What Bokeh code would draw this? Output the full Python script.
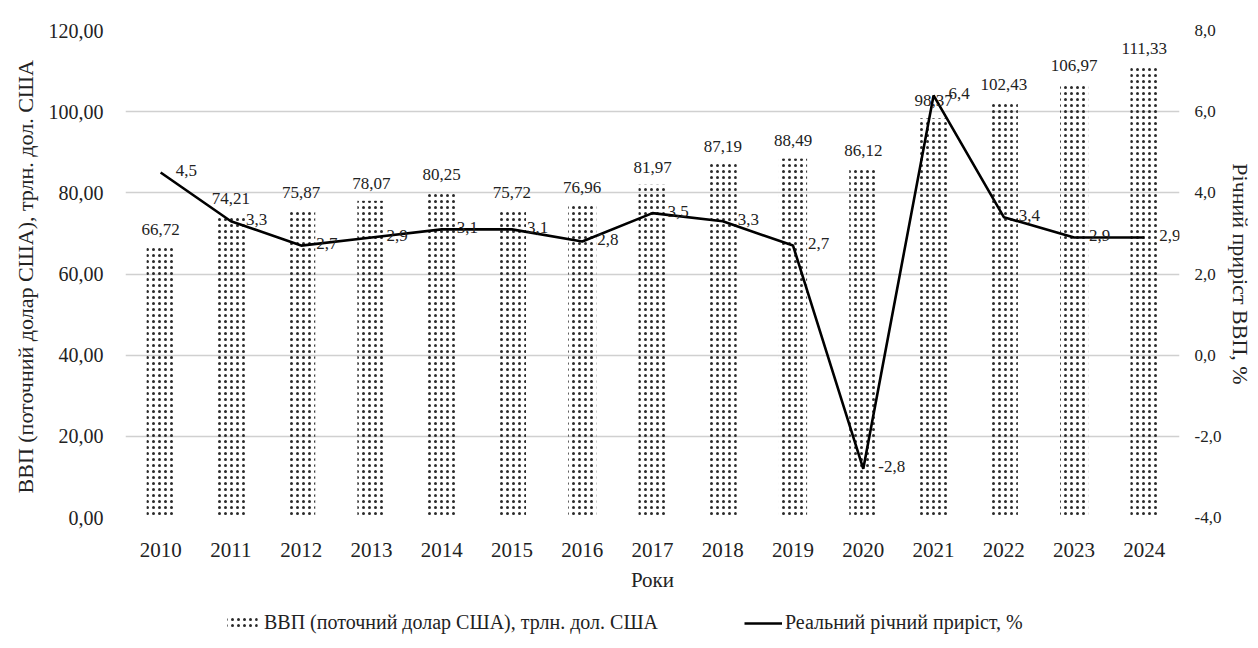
from bokeh.plotting import figure
from bokeh.layouts import column
from bokeh.models import (ColumnDataSource, Range1d, LinearAxis, LabelSet, Legend, LegendItem,
                          CustomJSTickFormatter, FixedTicker)
from bokeh.embed import file_html
from bokeh.resources import INLINE

years = ["2010", "2011", "2012", "2013", "2014", "2015", "2016", "2017",
         "2018", "2019", "2020", "2021", "2022", "2023", "2024"]
gdp = [66.72, 74.21, 75.87, 78.07, 80.25, 75.72, 76.96, 81.97,
       87.19, 88.49, 86.12, 98.37, 102.43, 106.97, 111.33]
growth = [4.5, 3.3, 2.7, 2.9, 3.1, 3.1, 2.8, 3.5, 3.3, 2.7, -2.8, 6.4, 3.4, 2.9, 2.9]
left_ticks = [0, 20, 40, 60, 80, 100, 120]
right_ticks = [-4, -2, 0, 2, 4, 6, 8]
legend_labels = ["ВВП (поточний долар США), трлн. дол. США", "Реальний річний приріст, %"]

FONT = "Liberation Serif"
TXT = "#222222"
BAR_STYLE = dict(fill_color=None, line_color=None, hatch_pattern="dot", hatch_color="#2a2a2a",
                 hatch_scale=6, hatch_weight=2.0)
LINE_STYLE = dict(line_color="black", line_width=2.6)

src = ColumnDataSource(dict(
    year=years, gdp=gdp, growth=growth,
    gdp_lbl=[f"{v:.2f}".replace(".", ",") for v in gdp],
    gr_lbl=[f"{v:.1f}".replace(".", ",") for v in growth],
))

W = 1256
p = figure(width=W, height=600, x_range=years, y_range=Range1d(0, 120),
           output_backend="svg", toolbar_location=None,
           min_border_left=125, min_border_right=64, min_border_top=30, min_border_bottom=83)
p.extra_y_ranges = {"right": Range1d(-4, 8)}
p.outline_line_color = None
p.background_fill_color = "white"
p.border_fill_color = "white"

bars = p.vbar(x="year", top="gdp", width=0.4, source=src, **BAR_STYLE)
line = p.line(x="year", y="growth", source=src, y_range_name="right", **LINE_STYLE)

# axes
p.yaxis.ticker = FixedTicker(ticks=left_ticks)
p.yaxis.formatter = CustomJSTickFormatter(code="return tick.toFixed(2).replace('.', ',');")
p.yaxis.axis_line_color = None
p.yaxis.major_tick_line_color = None
p.yaxis.minor_tick_line_color = None
p.yaxis.major_label_text_font = FONT
p.yaxis.major_label_text_font_size = "20px"
p.yaxis.major_label_text_color = TXT
p.yaxis.major_label_standoff = 16
p.yaxis.axis_label = "ВВП (поточний долар США),  трлн. дол. США"
p.yaxis.axis_label_text_font = FONT
p.yaxis.axis_label_text_font_size = "22px"
p.yaxis.axis_label_text_font_style = "normal"
p.yaxis.axis_label_text_color = TXT
p.yaxis.axis_label_standoff = 8

ry = LinearAxis(y_range_name="right",
                ticker=FixedTicker(ticks=right_ticks),
                formatter=CustomJSTickFormatter(code="return tick.toFixed(1).replace('.', ',');"))
ry.axis_line_color = None
ry.major_tick_line_color = None
ry.minor_tick_line_color = None
ry.major_label_text_font = FONT
ry.major_label_text_font_size = "17px"
ry.major_label_text_color = TXT
ry.major_label_standoff = 9
ry.axis_label = "Річний приріст ВВП, %"
ry.axis_label_text_font = FONT
ry.axis_label_text_font_size = "22px"
ry.axis_label_text_font_style = "normal"
ry.axis_label_text_color = TXT
ry.axis_label_standoff = 4
p.add_layout(ry, "right")

p.xaxis.axis_line_color = None
p.xaxis.major_tick_line_color = None
p.xaxis.major_label_text_font = FONT
p.xaxis.major_label_text_font_size = "21px"
p.xaxis.major_label_text_color = TXT
p.xaxis.major_label_standoff = 19
p.xaxis.axis_label = "Роки"
p.xaxis.axis_label_text_font = FONT
p.xaxis.axis_label_text_font_size = "21px"
p.xaxis.axis_label_text_font_style = "normal"
p.xaxis.axis_label_text_color = TXT
p.xaxis.axis_label_standoff = 8

p.xgrid.grid_line_color = None
p.ygrid.grid_line_color = "#d0d0d0"
p.ygrid.grid_line_width = 1.3

# labels
p.add_layout(LabelSet(x="year", y="gdp", text="gdp_lbl", source=src, y_offset=12,
                      text_align="center", text_baseline="bottom",
                      text_font=FONT, text_font_size="17px", text_color=TXT))
p.add_layout(LabelSet(x="year", y="growth", text="gr_lbl", source=src, y_range_name="right",
                      x_offset=15, y_offset=2, text_align="left", text_baseline="middle",
                      text_font=FONT, text_font_size="17px", text_color=TXT))

# legend strip below the chart (zero-height bar and single-point line: nothing visible is drawn)
lf = figure(width=W, height=34, x_range=Range1d(0, 1), y_range=Range1d(0, 1),
            x_axis_type=None, y_axis_type=None,
            output_backend="svg", toolbar_location=None, min_border=0)
lf.grid.visible = False
lf.outline_line_color = None
lbars = lf.vbar(x=[0.5], bottom=[0], top=[0], width=0.01, **BAR_STYLE)
lline = lf.line(x=[0.5], y=[0.5], **LINE_STYLE)
legend = Legend(items=[LegendItem(label=legend_labels[0], renderers=[lbars]),
                       LegendItem(label=legend_labels[1], renderers=[lline])],
                orientation="horizontal", location=(98, 0),
                label_text_font=FONT, label_text_font_size="20px", label_text_color=TXT,
                glyph_width=38, glyph_height=14, spacing=86, label_standoff=3,
                padding=4, margin=0,
                border_line_color=None, background_fill_alpha=0)
lf.add_layout(legend, "center")

open("out.html", "w").write(file_html(column(p, lf), INLINE))
